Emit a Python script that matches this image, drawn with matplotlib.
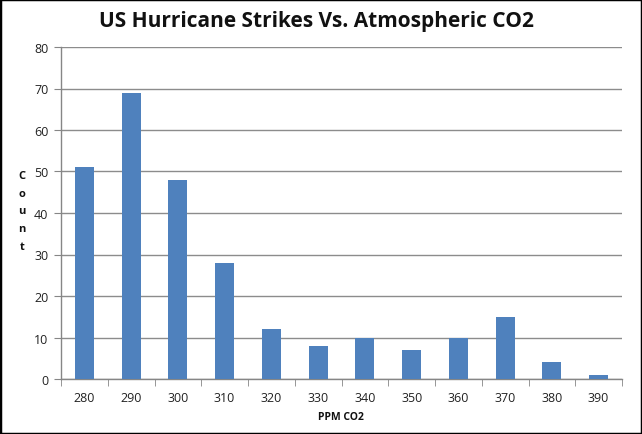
import matplotlib
matplotlib.use("Agg")
import matplotlib.pyplot as plt
from matplotlib.patches import Rectangle

categories = ["280", "290", "300", "310", "320", "330", "340", "350", "360", "370", "380", "390"]
counts = [51, 69, 48, 28, 12, 8, 10, 7, 10, 15, 4, 1]
yticks = [0, 10, 20, 30, 40, 50, 60, 70, 80]

plt.rcParams['font.family'] = ['Open Sans', 'DejaVu Sans']

fig = plt.figure(figsize=(6.42, 4.35), dpi=100)
ax = fig.add_axes([61/642, 1-380/435, (622-61)/642, (380-48)/435])

x = list(range(len(categories)))
ax.bar(x, counts, width=0.41, color="#4F81BD", zorder=3)

ax.set_xlim(-0.5, len(categories) - 0.5)
ax.set_ylim(0, 80)
ax.set_yticks(yticks)
ax.set_yticklabels([str(v) for v in yticks], fontsize=9, color="#222222")
ax.set_xticks(x)
ax.set_xticklabels(categories, fontsize=9, color="#222222")
ax.set_xticks([i - 0.5 for i in range(len(categories) + 1)], minor=True)
ax.tick_params(axis='x', which='major', length=0, pad=9)
ax.tick_params(axis='x', which='minor', length=5, color="#868686", direction='out')
ax.tick_params(axis='y', which='major', length=5, color="#868686", pad=4)

ax.grid(axis='y', color="#8C8C8C", linewidth=1.0, zorder=0)
for s in ['top', 'right']:
    ax.spines[s].set_visible(False)
for s in ['left', 'bottom']:
    ax.spines[s].set_color("#868686")
    ax.spines[s].set_linewidth(1.0)

fig.text(316/642, 1 - 22/435, "US Hurricane Strikes Vs. Atmospheric CO2", ha='center', va='center',
         fontsize=15, fontweight='bold', color="#111111")
fig.text(341/642, 1 - 418/435, "PPM CO2", ha='center', va='center', fontsize=7.5,
         fontweight='bold', color="#111111")
fig.text(22/642, 1 - 212/435, "C\no\nu\nn\nt", ha='center', va='center', fontsize=8,
         fontweight='bold', color="#111111", linespacing=1.85)

fig.patches.append(Rectangle((0, 0), 1, 1, transform=fig.transFigure, fill=False,
                             edgecolor='black', linewidth=2.5))

fig.savefig("out.png", dpi=100)
